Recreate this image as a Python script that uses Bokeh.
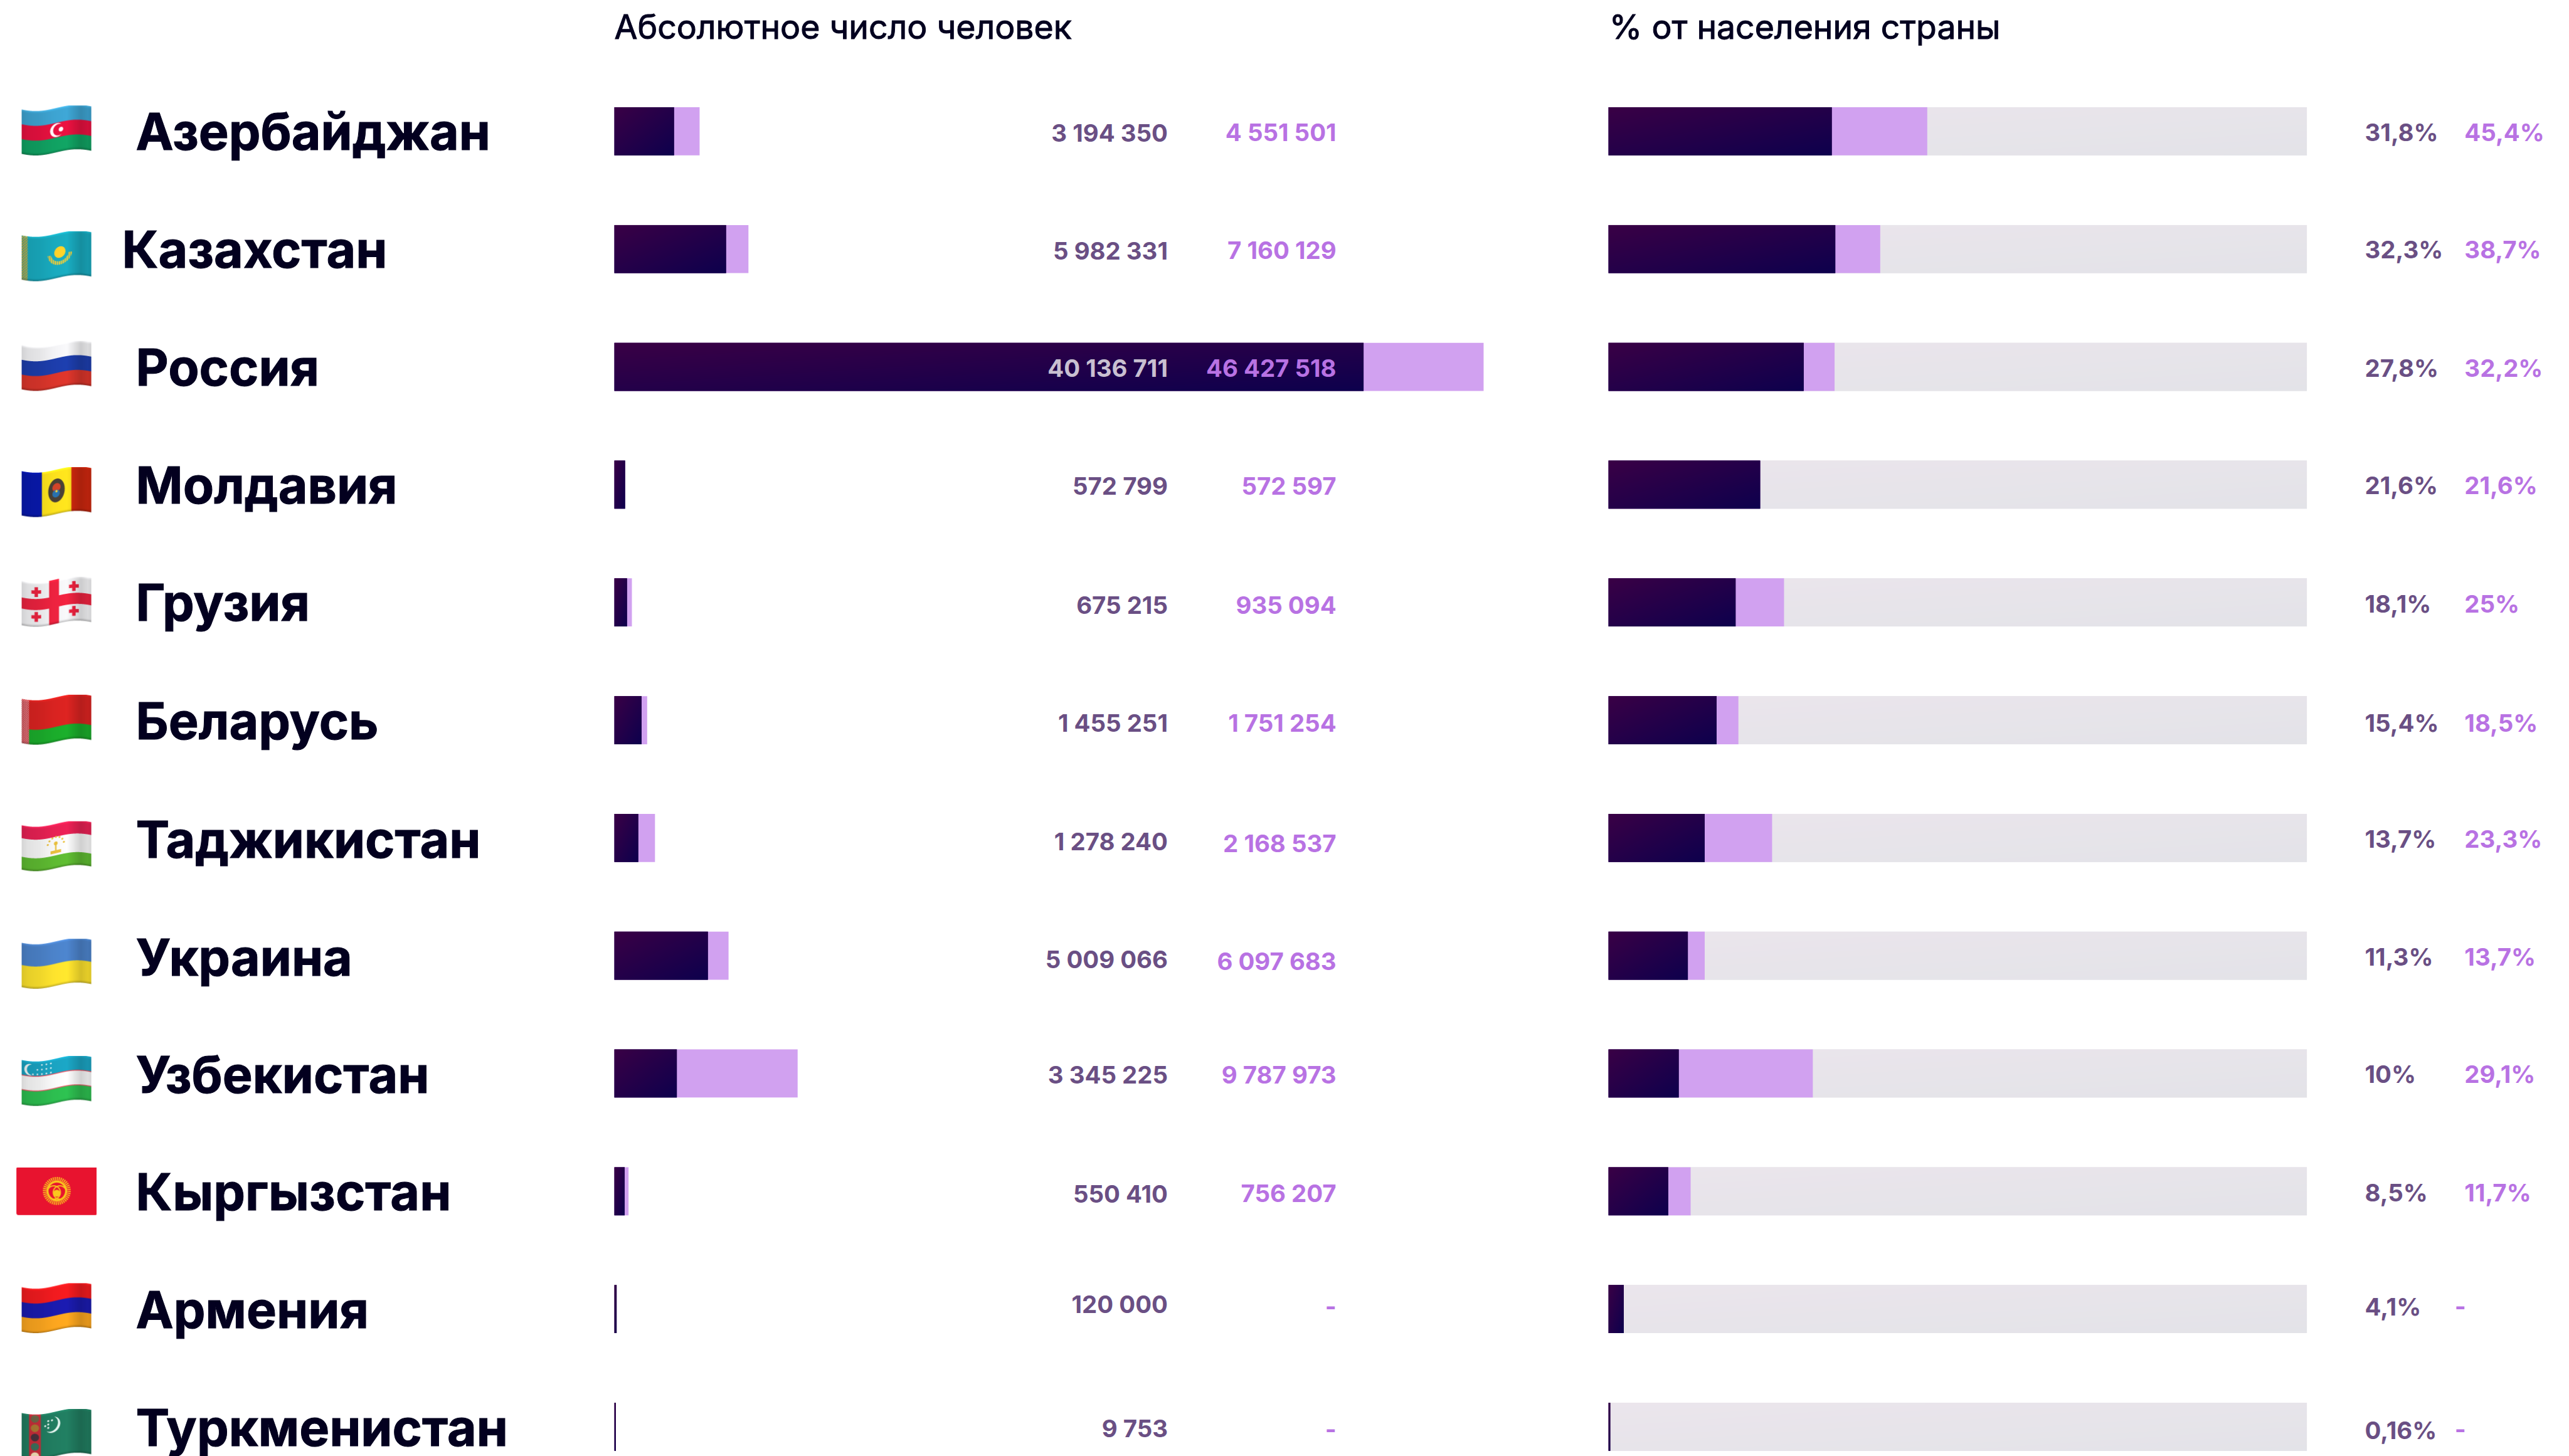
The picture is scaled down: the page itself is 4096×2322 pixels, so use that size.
import numpy as np
from bokeh.plotting import figure
from bokeh.models import ColumnDataSource, Range1d
from bokeh.core.properties import value
from bokeh.embed import file_html
from bokeh.resources import INLINE

# ---------- data ----------
countries = ["Азербайджан", "Казахстан", "Россия", "Молдавия", "Грузия", "Беларусь",
             "Таджикистан", "Украина", "Узбекистан", "Кыргызстан", "Армения", "Туркменистан"]
flag_keys = ["az", "kz", "ru", "md", "ge", "by", "tj", "ua", "uz", "kg", "am", "tm"]
abs_main = [3194350, 5982331, 40136711, 572799, 675215, 1455251,
            1278240, 5009066, 3345225, 550410, 120000, 9753]
abs_high = [4551501, 7160129, 46427518, 572597, 935094, 1751254,
            2168537, 6097683, 9787973, 756207, 0, 0]
pct_main = [31.8, 32.3, 27.8, 21.6, 18.1, 15.4, 13.7, 11.3, 10.0, 8.5, 2.17, 0.25]
pct_high = [45.4, 38.7, 32.2, 21.6, 25.0, 18.5, 23.3, 13.7, 29.1, 11.7, 0, 0]
pct_main_labels = ["31,8%", "32,3%", "27,8%", "21,6%", "18,1%", "15,4%",
                   "13,7%", "11,3%", "10%", "8,5%", "4,1%", "0,16%"]
pct_high_labels = ["45,4%", "38,7%", "32,2%", "21,6%", "25%", "18,5%",
                   "23,3%", "13,7%", "29,1%", "11,7%", "-", "-"]
header_abs = "Абсолютное число человек"
header_pct = "% от населения страны"

# ---------- layout, in reference pixels ----------
S = 0.597
REF_W, REF_H = 6859, 3889
MARGIN = 0
W, H = 4096, 2322
ROW0, ROW_STEP = 350.0, 314.6
BAR_HALF = 64.25
ABS_X0, ABS_PER_PERSON = 1640, 50e-6
PCT_X0, PCT_PER_POINT = 4295, 18.75
TRACK_END = 99.47
ABS_MIN_DRAWN = 80000
DARK_SCALE = 0.997
ABS1_R, ABS2_R = 3118, 3568
PCT1_L, PCT2_L, DASH_L = 6315, 6581, 6555
NUM_CAP = 23.5
BASE_FIX = 0.35  # share of the font size by which the alphabetic baseline lands low
label_x = [362, 325] + [362] * 10
label_base = [397, 712, 1027, 1342, 1656, 1972, 2288, 2603, 2916, 3229, 3545, 3859]
flag_top = [281, 617, 910, 1247, 1540, 1855, 2193, 2507, 2820, 3118, 3427, 3763]
abs1_dy = [3, 3, 3, 3, 7, 7, 9, 9, 3, 6, -14, 4]
abs2_dy = [2, 2, 3, 3, 7, 7, 13, 13, 3, 5, -7, 8]
pct_dy = [1, 1, 3, 1, 3, 6, 2, 2, 0, 2, -7, 8]
FONT = value("Inter")
INK, MUTED, LILAC, PALE, LIGHT_BAR = "#03001f", "#6a4f84", "#b872e3", "#c9c0d1", "#d1a1f0"

rows = [ROW0 + ROW_STEP * i for i in range(len(countries))]
flip = lambda ref_y: REF_H - ref_y

p = figure(width=W, height=H, output_backend="svg", toolbar_location=None,
           x_range=Range1d(MARGIN, MARGIN + W / S),
           y_range=Range1d(REF_H - MARGIN - H / S, REF_H - MARGIN),
           min_border=0, outline_line_color=None, background_fill_color="white",
           border_fill_color="white")
p.axis.visible = False
p.grid.visible = False
p.extra_x_ranges["abs"] = Range1d((MARGIN - ABS_X0) / ABS_PER_PERSON, (MARGIN + W / S - ABS_X0) / ABS_PER_PERSON)
p.extra_x_ranges["pct"] = Range1d((MARGIN - PCT_X0) / PCT_PER_POINT, (MARGIN + W / S - PCT_X0) / PCT_PER_POINT)


def gradient(width_ref, c0, c1):
    w = max(1, int(round(width_ref * S)))
    h = int(round(BAR_HALF * 2 * S))
    xs = (np.arange(w) + .5) / w
    ys = (np.arange(h) + .5) / h
    t = ((xs[None, :] + ys[:, None]) / 2)[..., None]
    rgb = np.array(c0)[None, None, :] * (1 - t) + np.array(c1)[None, None, :] * t
    out = np.dstack([rgb, np.full((h, w), 255.)]).round().astype(np.uint8)
    return out[::-1].copy().view(np.uint32).reshape(h, w)


tops = [flip(c - BAR_HALF) for c in rows]
bots = [flip(c + BAR_HALF) for c in rows]
zeros = [0] * len(rows)
abs_drawn = [max(v * DARK_SCALE, ABS_MIN_DRAWN) for v in abs_main]

# absolute panel
p.quad(left=zeros, right=abs_high, top=tops, bottom=bots, x_range_name="abs",
       fill_color=LIGHT_BAR, line_color=None)
p.quad(left=zeros, right=abs_drawn, top=tops, bottom=bots, x_range_name="abs",
       fill_color="#24004a", line_color=None)
for v, b in zip(abs_drawn, bots):
    p.image_rgba(image=[gradient(v * ABS_PER_PERSON, (58, 0, 69), (13, 0, 77))], x=[0], y=[b],
                 dw=[v], dh=[BAR_HALF * 2], x_range_name="abs")

# share panel
p.quad(left=zeros, right=[TRACK_END] * len(rows), top=tops, bottom=bots, x_range_name="pct",
       fill_color="#e6e4ea", line_color=None)
for b in bots:
    p.image_rgba(image=[gradient(TRACK_END * PCT_PER_POINT, (235, 229, 236), (227, 227, 232))],
                 x=[0], y=[b], dw=[TRACK_END], dh=[BAR_HALF * 2], x_range_name="pct")
p.quad(left=zeros, right=pct_high, top=tops, bottom=bots, x_range_name="pct",
       fill_color=LIGHT_BAR, line_color=None)
p.quad(left=zeros, right=pct_main, top=tops, bottom=bots, x_range_name="pct",
       fill_color="#24004a", line_color=None)
for v, b in zip(pct_main, bots):
    p.image_rgba(image=[gradient(v * PCT_PER_POINT, (58, 0, 69), (13, 0, 77))], x=[0], y=[b],
                 dw=[v], dh=[BAR_HALF * 2], x_range_name="pct")


# ---------- flags ----------
def disc(X, Y, cx, cy, r):
    return (X - cx) ** 2 + (Y - cy) ** 2 <= r * r


def ring(X, Y, cx, cy, r0, r1):
    d = (X - cx) ** 2 + (Y - cy) ** 2
    return (d <= r1 * r1) & (d >= r0 * r0)


def paint_flag(key, X, Y, FW, FH):
    u, v = X / FW, Y / FH
    img = np.zeros(X.shape + (3,))

    def put(mask, col):
        img[mask] = np.array(col, float)

    def stripes(cols, cuts=None):
        n = len(cols)
        cuts = cuts or [(i + 1) / n for i in range(n)]
        lows = [-9] + list(cuts[:-1])
        for c, low in zip(cols, lows):
            put(v >= low, c)

    if key == "az":
        stripes([(60, 160, 205), (226, 16, 62), (16, 158, 96)])
        cx, cy = 94, FH * .5
        put(disc(X, Y, cx, cy, 18) & ~disc(X, Y, cx + 5, cy, 15), (255, 255, 255))
        put(disc(X, Y, cx + 11, cy, 6), (255, 255, 255))
    elif key == "kz":
        put(u > -9, (24, 166, 186))
        put(u < .085, (190, 172, 70))
        put((u < .085) & (np.sin(Y * .9) * np.sin(X * .9) > .25), (40, 160, 165))
        cx, cy = 102, FH * .43
        put(disc(X, Y, cx, cy, 15), (248, 204, 40))
        put(ring(X, Y, cx, cy, 24, 33) & (Y > cy + 4) & (np.sin(X * 1.2) > -.5), (244, 200, 48))
    elif key == "ru":
        stripes([(238, 238, 240), (28, 60, 168), (214, 52, 42)])
    elif key == "md":
        put(u > -9, (246, 220, 28))
        put(u < .29, (8, 24, 170))
        put(u > .715, (200, 38, 14))
        cx, cy = FW * .5, FH * .47
        shield = ((X - cx) / 22) ** 2 + ((Y - cy) / 31) ** 2 < 1
        put(shield, (72, 62, 52))
        put(disc(X, Y, cx, cy - 8, 11), (205, 66, 40))
        put(disc(X, Y, cx - 1, cy + 8, 10), (40, 110, 170))
        put(disc(X, Y, cx, cy + 2, 3), (240, 210, 60))
    elif key == "ge":
        put(u > -9, (238, 238, 240))
        red = (232, 34, 62)
        put(np.abs(v - .5) < .125, red)
        put(np.abs(u - .465) < .07, red)
        for cu, cv in ((.21, .22), (.75, .22), (.21, .78), (.75, .78)):
            cx, cy = cu * FW, cv * FH
            put((np.abs(X - cx) < 13) & (np.abs(Y - cy) < 4.5), red)
            put((np.abs(X - cx) < 4.5) & (np.abs(Y - cy) < 13), red)
    elif key == "by":
        stripes([(212, 34, 32), (26, 168, 42)], [.665, 1])
        strip = u < .105
        put(strip, (205, 50, 60))
        put(strip & (np.sin(X * 1.3 + 1) * np.sin(Y * 1.15) > .15), (232, 190, 190))
    elif key == "tj":
        stripes([(226, 32, 82), (242, 242, 242), (92, 182, 48)], [.29, .71, 1])
        cx, cy = FW * .49, FH * .5
        gold = (226, 186, 60)
        put(disc(X, Y, cx, cy - 7, 5), gold)
        put((np.abs(X - cx) < 2) & (Y > cy - 5) & (Y < cy + 12), gold)
        put((np.abs(X - cx) < 14) & (np.abs(Y - cy - 15) < 4), gold)
        for a in np.linspace(-2.9, -.2, 7):
            put(disc(X, Y, cx + 22 * np.cos(a), cy - 2 + 22 * np.sin(a), 2.6), gold)
    elif key == "ua":
        stripes([(74, 128, 198), (248, 222, 44)])
    elif key == "uz":
        stripes([(26, 160, 190), (226, 80, 96), (244, 244, 244), (226, 80, 96), (44, 186, 78)],
                [.325, .345, .655, .675, 1])
        cx, cy = 22, FH * .19
        put(disc(X, Y, cx, cy, 15) & ~disc(X, Y, cx + 6, cy, 14), (240, 245, 245))
        for r, n0 in ((0, 3), (1, 4), (2, 5)):
            for k in range(n0):
                put(disc(X, Y, 78 - k * 12, 10 + r * 12, 2.2), (225, 240, 245))
    elif key == "kg":
        put(u > -9, (232, 19, 47))
        cx, cy = FW * .5, FH * .5
        a = np.arctan2(Y - cy, X - cx)
        rr = np.hypot(X - cx, Y - cy)
        put((rr < 37) & (np.sin(a * 40) > -.1) & (rr > 26), (250, 200, 30))
        put(rr < 27, (250, 200, 30))
        put((rr < 22), (232, 19, 47))
        put(disc(X, Y, cx, cy + 6, 9), (250, 200, 30))
        put(ring(X, Y, cx - 8, cy + 4, 16, 19) & (rr < 22), (250, 200, 30))
        put(ring(X, Y, cx + 8, cy + 4, 16, 19) & (rr < 22), (250, 200, 30))
    elif key == "am":
        stripes([(236, 26, 30), (26, 26, 170), (246, 162, 30)])
    elif key == "tm":
        put(u > -9, (32, 122, 94))
        put((u > .105) & (u < .275), (196, 44, 56))
        cxs = FW * .19
        ornament = ((.10, (110, 100, 70)), (.31, (170, 120, 50)), (.52, (70, 50, 60)),
                    (.73, (60, 110, 90)), (.94, (240, 220, 180)))
        for cv, col in ornament:
            put(((X - cxs) / 11) ** 2 + ((Y - cv * FH) / 10) ** 2 < 1, col)
        cx, cy = 82, FH * .28
        put(disc(X, Y, cx, cy, 21) & ~disc(X, Y, cx - 5, cy - 3, 20), (225, 240, 235))
        for dx, dy in ((-11, -12), (-1, -12), (-11, -3), (-19, 0), (-11, 6)):
            put(disc(X, Y, cx + dx, cy + dy, 2.6), (225, 240, 235))
    return img


FLAG_X0, FLAG_W, FLAG_BODY, FLAG_A = 57.0, 186.0, 117.0, 8.2
KG_X0, KG_W, KG_H = 43.0, 214.0, 127.0
SS = 4


def build_flag(key):
    wavy = key != "kg"
    bw, bh = (FLAG_W, FLAG_BODY + 2 * FLAG_A) if wavy else (KG_W, KG_H)
    w, h = int(round(bw * S)), int(round(bh * S))
    xs = (np.arange(w * SS) + .5) / (w * SS) * bw
    ys = (np.arange(h * SS) + .5) / (h * SS) * bh
    X, YY = np.meshgrid(xs, ys)
    if wavy:
        u = X / bw
        Y = YY - FLAG_A - FLAG_A * np.cos(np.pi * (u - .2) / .6)
        fh = FLAG_BODY
    else:
        Y, fh = YY, KG_H
    rgb = paint_flag(key, X, Y, bw, fh)
    if wavy:
        alpha = ((Y >= 0) & (Y <= fh)).astype(float)
        shade = np.interp(X / bw, [0, .08, .25, .45, .65, .85, .95, 1],
                          [.88, .93, .96, 1.02, 1.05, .86, .92, .88])
        edge = np.interp(Y / fh, [0, .025, .06, .94, .98, 1], [1.18, 1.08, 1, 1, .85, .7])
        rgb = np.clip(rgb * (shade * edge)[..., None], 0, 255)
    else:
        r = 5.0
        dx = np.maximum(np.maximum(r - X, X - (bw - r)), 0)
        dy = np.maximum(np.maximum(r - Y, Y - (fh - r)), 0)
        alpha = (dx * dx + dy * dy <= r * r).astype(float)
    pm = rgb * alpha[..., None]
    pm = pm.reshape(h, SS, w, SS, 3).mean(axis=(1, 3))
    al = alpha.reshape(h, SS, w, SS).mean(axis=(1, 3))
    col = np.where(al[..., None] > 0, pm / np.maximum(al[..., None], 1e-6), 255)
    out = np.dstack([col, al * 255]).round().astype(np.uint8)
    return out[::-1].copy().view(np.uint32).reshape(h, w), bw, bh


for key, top in zip(flag_keys, flag_top):
    arr, bw, bh = build_flag(key)
    x0 = FLAG_X0 if key != "kg" else KG_X0
    p.image_rgba(image=[arr], x=[x0], y=[flip(top + bh)], dw=[bw], dh=[bh])


# ---------- texts ----------
def texts(xs, ys, labels, colors, size, align="left", style="normal", outline=False):
    if isinstance(colors, str):
        colors = [colors] * len(xs)
    fix = BASE_FIX * size / S
    src = ColumnDataSource(dict(x=xs, y=[flip(y - fix) for y in ys], t=labels, c=colors))
    extra = dict(text_outline_color=colors[0]) if outline else {}
    p.text(x="x", y="y", text="t", source=src, text_font=FONT, text_font_size=f"{size}px",
           text_font_style=style, text_color="c", text_align=align, text_baseline="alphabetic", **extra)


spaced = lambda v: f"{v:,}".replace(",", " ")
n = len(rows)
texts([1640, 4297], [102, 102], [header_abs, header_pct], INK, 53.5, outline=True)
texts(label_x, label_base, countries, INK, 80.6, style="bold", outline=True)

abs1_y = [c + d + NUM_CAP for c, d in zip(rows, abs1_dy)]
abs1_lab = [spaced(v) for v in abs_main]
texts([ABS1_R] * n, abs1_y, abs1_lab, [PALE if i == 2 else MUTED for i in range(n)], 38.4, "right", "bold")

abs2_lab = [spaced(v) if v else "-" for v in abs_high]
abs2_y = [c + d + (NUM_CAP if v else 21) for c, d, v in zip(rows, abs2_dy, abs_high)]
texts([ABS2_R] * n, abs2_y, abs2_lab, LILAC, 38.4, "right", "bold")

pct1_y = [c + d + NUM_CAP for c, d in zip(rows, pct_dy)]
texts([PCT1_L] * n, pct1_y, pct_main_labels, MUTED, 38.4, "left", "bold")

pct2_x = [DASH_L if t == "-" else PCT2_L for t in pct_high_labels]
pct2_y = [y - NUM_CAP + 21 if t == "-" else y for y, t in zip(pct1_y, pct_high_labels)]
texts(pct2_x, pct2_y, pct_high_labels, LILAC, 38.4, "left", "bold")

open("out.html", "w").write(file_html(p, INLINE))
